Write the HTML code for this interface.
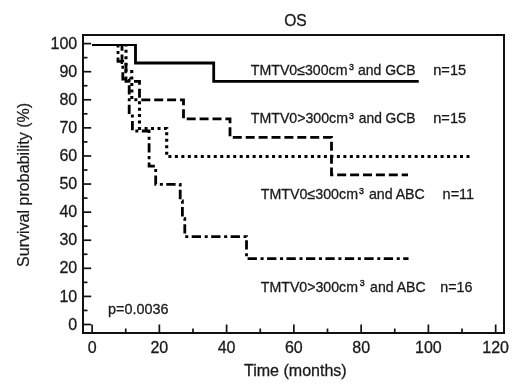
<!DOCTYPE html>
<html><head><meta charset="utf-8"><style>
html,body{margin:0;padding:0;background:#fff;}
svg{display:block;filter:grayscale(1);}
text{font-family:"Liberation Sans",sans-serif;fill:#1a1a1a;stroke:#1a1a1a;stroke-width:0.3px;}
</style></head><body>
<svg width="520" height="390" viewBox="0 0 520 390">
<rect x="0" y="0" width="520" height="390" fill="#fff"/>
<text x="295.4" y="25.9" text-anchor="middle" font-size="15.6">OS</text>
<g stroke="#111" stroke-width="1.7" fill="none">
<line x1="84" y1="324.50" x2="91.2" y2="324.50"/><line x1="84" y1="310.45" x2="87.5" y2="310.45"/><line x1="84" y1="296.41" x2="91.2" y2="296.41"/><line x1="84" y1="282.37" x2="87.5" y2="282.37"/><line x1="84" y1="268.32" x2="91.2" y2="268.32"/><line x1="84" y1="254.27" x2="87.5" y2="254.27"/><line x1="84" y1="240.23" x2="91.2" y2="240.23"/><line x1="84" y1="226.19" x2="87.5" y2="226.19"/><line x1="84" y1="212.14" x2="91.2" y2="212.14"/><line x1="84" y1="198.09" x2="87.5" y2="198.09"/><line x1="84" y1="184.05" x2="91.2" y2="184.05"/><line x1="84" y1="170.00" x2="87.5" y2="170.00"/><line x1="84" y1="155.96" x2="91.2" y2="155.96"/><line x1="84" y1="141.91" x2="87.5" y2="141.91"/><line x1="84" y1="127.87" x2="91.2" y2="127.87"/><line x1="84" y1="113.82" x2="87.5" y2="113.82"/><line x1="84" y1="99.78" x2="91.2" y2="99.78"/><line x1="84" y1="85.73" x2="87.5" y2="85.73"/><line x1="84" y1="71.69" x2="91.2" y2="71.69"/><line x1="84" y1="57.64" x2="87.5" y2="57.64"/><line x1="84" y1="43.60" x2="91.2" y2="43.60"/><line x1="92.10" y1="332" x2="92.10" y2="324.5"/><line x1="125.73" y1="332" x2="125.73" y2="328.5"/><line x1="159.36" y1="332" x2="159.36" y2="324.5"/><line x1="192.99" y1="332" x2="192.99" y2="328.5"/><line x1="226.62" y1="332" x2="226.62" y2="324.5"/><line x1="260.25" y1="332" x2="260.25" y2="328.5"/><line x1="293.88" y1="332" x2="293.88" y2="324.5"/><line x1="327.51" y1="332" x2="327.51" y2="328.5"/><line x1="361.14" y1="332" x2="361.14" y2="324.5"/><line x1="394.77" y1="332" x2="394.77" y2="328.5"/><line x1="428.40" y1="332" x2="428.40" y2="324.5"/><line x1="462.03" y1="332" x2="462.03" y2="328.5"/><line x1="495.66" y1="332" x2="495.66" y2="324.5"/>
</g>
<rect x="83" y="35" width="421" height="298" fill="none" stroke="#111" stroke-width="2"/>
<g font-size="16">
<text x="77.2" y="329.60" text-anchor="end">0</text><text x="77.2" y="301.51" text-anchor="end">10</text><text x="77.2" y="273.42" text-anchor="end">20</text><text x="77.2" y="245.33" text-anchor="end">30</text><text x="77.2" y="217.24" text-anchor="end">40</text><text x="77.2" y="189.15" text-anchor="end">50</text><text x="77.2" y="161.06" text-anchor="end">60</text><text x="77.2" y="132.97" text-anchor="end">70</text><text x="77.2" y="104.88" text-anchor="end">80</text><text x="77.2" y="76.79" text-anchor="end">90</text><text x="77.2" y="48.70" text-anchor="end">100</text>
<text x="92.10" y="352.5" text-anchor="middle">0</text><text x="159.36" y="352.5" text-anchor="middle">20</text><text x="226.62" y="352.5" text-anchor="middle">40</text><text x="293.88" y="352.5" text-anchor="middle">60</text><text x="361.14" y="352.5" text-anchor="middle">80</text><text x="428.40" y="352.5" text-anchor="middle">100</text><text x="495.66" y="352.5" text-anchor="middle">120</text>
</g>
<text x="244" y="375.9" font-size="16" textLength="102.7" lengthAdjust="spacingAndGlyphs">Time (months)</text>
<text transform="translate(28.9,267) rotate(-90)" x="0" y="0" font-size="16" textLength="164.2" style="stroke-width:0.2px" lengthAdjust="spacingAndGlyphs">Survival probability (%)</text>
<defs><clipPath id="cp"><rect x="84" y="44" width="419" height="288"/></clipPath></defs>
<g fill="none" stroke="#000" stroke-width="2.8" clip-path="url(#cp)">
<path d="M92,44.5 H135.5 V63 H213.7 V81.3 H418.75"/>
<path d="M92,44.5 H122 V62.5 H126 V81.3 H139.5 V99.8 H183.5 V118.9 H230 V137.3 H331.5 V174.8 H408" stroke-dasharray="9 3.9" stroke-dashoffset="11.5"/>
<path d="M92,44.5 H126 V71.6 H131.8 V99.8 H139.5 V128.5 H166.7 V156.5 H470" stroke-dasharray="3 3.48" stroke-dashoffset="6.0" stroke-width="3.1"/>
<path d="M92,44.5 H118 V61.3 H122.8 V79 H129.2 V116 H132.4 V131 H149.1 V166.2 H155.7 V184.3 H180.2 V201 H182.4 V218.6 H184.8 V236.7 H246.5 V258.6 H408.5" stroke-dasharray="9.32 3.65 3.04 3.44" stroke-dashoffset="19.3"/>
</g>
<g font-size="14.5">
<text x="250.8" y="74.6" textLength="96.7" lengthAdjust="spacingAndGlyphs">TMTV0≤300cm</text>
<text x="349.0" y="69.8" font-size="9.3" textLength="4.9" style="stroke-width:0.45px" lengthAdjust="spacingAndGlyphs">3</text>
<text x="358.0" y="74.6" textLength="57.5" lengthAdjust="spacingAndGlyphs">and GCB</text>
<text x="433.2" y="74.6" textLength="33" lengthAdjust="spacingAndGlyphs">n=15</text>

<text x="250.8" y="123.2" textLength="97.2" lengthAdjust="spacingAndGlyphs">TMTV0&gt;300cm</text>
<text x="349.0" y="118.8" font-size="9.3" textLength="4.9" style="stroke-width:0.45px" lengthAdjust="spacingAndGlyphs">3</text>
<text x="358.8" y="123.2" textLength="56.7" lengthAdjust="spacingAndGlyphs">and GCB</text>
<text x="433.2" y="123.2" textLength="33" lengthAdjust="spacingAndGlyphs">n=15</text>

<text x="260.8" y="199.4" textLength="97.2" lengthAdjust="spacingAndGlyphs">TMTV0≤300cm</text>
<text x="359.0" y="194.4" font-size="9.3" textLength="4.9" style="stroke-width:0.45px" lengthAdjust="spacingAndGlyphs">3</text>
<text x="368.9" y="199.4" textLength="55.9" lengthAdjust="spacingAndGlyphs">and ABC</text>
<text x="442.6" y="199.4" textLength="31.5" lengthAdjust="spacingAndGlyphs">n=11</text>

<text x="260.8" y="292.0" textLength="97.2" lengthAdjust="spacingAndGlyphs">TMTV0&gt;300cm</text>
<text x="359.8" y="285.5" font-size="9.3" textLength="4.9" style="stroke-width:0.45px" lengthAdjust="spacingAndGlyphs">3</text>
<text x="370.1" y="292.0" textLength="55.5" lengthAdjust="spacingAndGlyphs">and ABC</text>
<text x="440.3" y="292.0" textLength="32.2" lengthAdjust="spacingAndGlyphs">n=16</text>

<text x="108.1" y="314.0" textLength="60.4" lengthAdjust="spacingAndGlyphs">p=0.0036</text>
</g>
</svg>
</body></html>
